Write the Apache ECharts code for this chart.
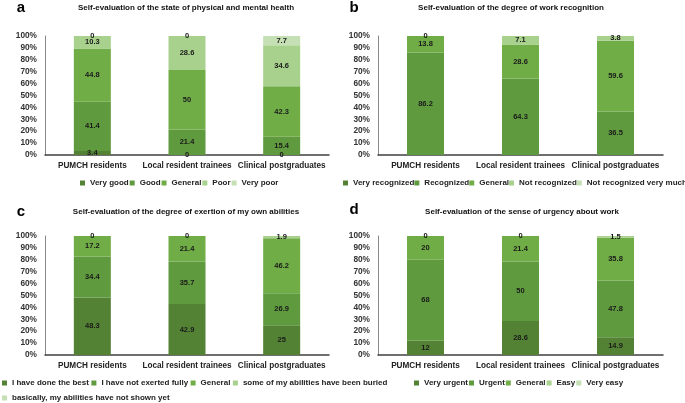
<!DOCTYPE html>
<html><head><meta charset="utf-8">
<script src="https://cdn.jsdelivr.net/npm/echarts@6/dist/echarts.min.js"></script>
<style>html,body{margin:0;padding:0;background:#fff}#c{width:685px;height:403px}</style>
</head><body><div id="c"></div>
<script>
const categories = ['PUMCH residents', 'Local resident trainees', 'Clinical postgraduates'];

const titleA = 'Self-evaluation of the state of physical and mental health';
const namesA = ['Very good', 'Good', 'General', 'Poor', 'Very poor'];
const veryGoodA = [3.4, 0, 0];
const goodA = [41.4, 21.4, 15.4];
const generalA = [44.8, 50, 42.3];
const poorA = [10.3, 28.6, 34.6];
const veryPoorA = [0, 0, 7.7];

const titleB = 'Self-evaluation of the degree of work recognition';
const namesB = ['Very recognized', 'Recognized', 'General', 'Not recognized', 'Not recognized very much'];
const veryRecB = [null, null, null];
const recB = [86.2, 64.3, 36.5];
const generalB = [13.8, 28.6, 59.6];
const notRecB = [0, 7.1, 3.8];
const notRecMuchB = [null, null, null];

const titleC = 'Self-evaluation of the degree of exertion of my own abilities';
const namesC = ['I have done the best', 'I have not exerted fully', 'General', 'some of my abilities have been buried', 'basically, my abilities have not shown yet'];
const bestC = [48.3, 42.9, 25];
const notFullyC = [34.4, 35.7, 26.9];
const generalC = [17.2, 21.4, 46.2];
const buriedC = [0, 0, 1.9];
const notShownC = [null, null, null];

const titleD = 'Self-evaluation of the sense of urgency about work';
const namesD = ['Very urgent', 'Urgent', 'General', 'Easy', 'Very easy'];
const veryUrgentD = [12, 28.6, 14.9];
const urgentD = [68, 50, 47.8];
const generalD = [20, 21.4, 35.8];
const easyD = [0, 0, 1.5];
const veryEasyD = [null, null, null];

const colors = ['#548235', '#5f9a3e', '#70ad47', '#a9d18e', '#c5e0b4'];
const FONT = 'Liberation Sans, Arial, sans-serif';

const panels = [
  {letter:'a', title:titleA, names:namesA, data:[veryGoodA, goodA, generalA, poorA, veryPoorA], left:45, top:36, width:284, tx:186, ty:8, lx:21, ly:8,
    legends:[{items:namesA, left:80, top:179, gap:1}]},
  {letter:'b', title:titleB, names:namesB, data:[veryRecB, recB, generalB, notRecB, notRecMuchB], left:378, top:36, width:285, tx:511, ty:8, lx:354, ly:8,
    legends:[{items:namesB, left:343, top:179, gap:0}]},
  {letter:'c', title:titleC, names:namesC, data:[bestC, notFullyC, generalC, buriedC, notShownC], left:45, top:236, width:284, tx:186, ty:212, lx:21, ly:212,
    legends:[{items:namesC.slice(0,4), left:2, top:379, gap:2.5}, {items:namesC.slice(4), left:2, top:394, gap:2}]},
  {letter:'d', title:titleD, names:namesD, data:[veryUrgentD, urgentD, generalD, easyD, veryEasyD], left:378, top:236, width:285, tx:522, ty:212, lx:354, ly:210,
    legends:[{items:namesD, left:414, top:379, gap:1}]}
];

const grid = [], xAxis = [], yAxis = [], series = [], legend = [], graphic = [];
panels.forEach((p, i) => {
  grid.push({left:p.left, top:p.top, width:p.width, height:119});
  xAxis.push({type:'category', gridIndex:i, data:categories,
    axisLine:{lineStyle:{color:'#404040', width:1.5}}, axisTick:{show:false},
    axisLabel:{fontFamily:FONT, fontSize:8.2, fontWeight:'bold', color:'#222', margin:7, interval:0}});
  yAxis.push({type:'value', gridIndex:i, min:0, max:100, interval:10,
    axisLine:{show:true, lineStyle:{color:'#888', width:1}}, axisTick:{show:false}, splitLine:{show:false},
    axisLabel:{fontFamily:FONT, fontSize:8.3, fontWeight:'bold', color:'#333', margin:8, formatter:'{value}%'}});
  p.names.forEach((n, k) => {
    series.push({type:'bar', name:n, xAxisIndex:i, yAxisIndex:i, stack:'s'+i, barWidth:37,
      data:p.data[k], itemStyle:{color:colors[k]},
      label:{show:true, position:'inside', fontFamily:FONT, fontSize:7.5, fontWeight:'bold', color:'#1a1a1a', formatter:'{c}'}});
  });
  p.legends.forEach(l => {
    legend.push({data:l.items.slice(), left:l.left, top:l.top, width:600, orient:'horizontal',
      itemWidth:5, itemHeight:5, itemGap:l.gap, icon:'rect', selectedMode:false, padding:0,
      textStyle:{fontFamily:FONT, fontSize:8, fontWeight:'bold', color:'#222'}});
  });
  graphic.push({type:'text', style:{text:p.title, x:p.tx, y:p.ty, fill:'#111',
    font:'bold 8px ' + FONT, textAlign:'center', textVerticalAlign:'middle'}});
  graphic.push({type:'text', style:{text:p.letter, x:p.lx, y:p.ly, fill:'#000',
    font:'bold 15px ' + FONT, textAlign:'center', textVerticalAlign:'middle'}});
});

const chart = echarts.init(document.getElementById('c'), null, {renderer:'canvas'});
chart.setOption({animation:false, color:colors, grid, xAxis, yAxis, series, legend, graphic});
</script></body></html>
